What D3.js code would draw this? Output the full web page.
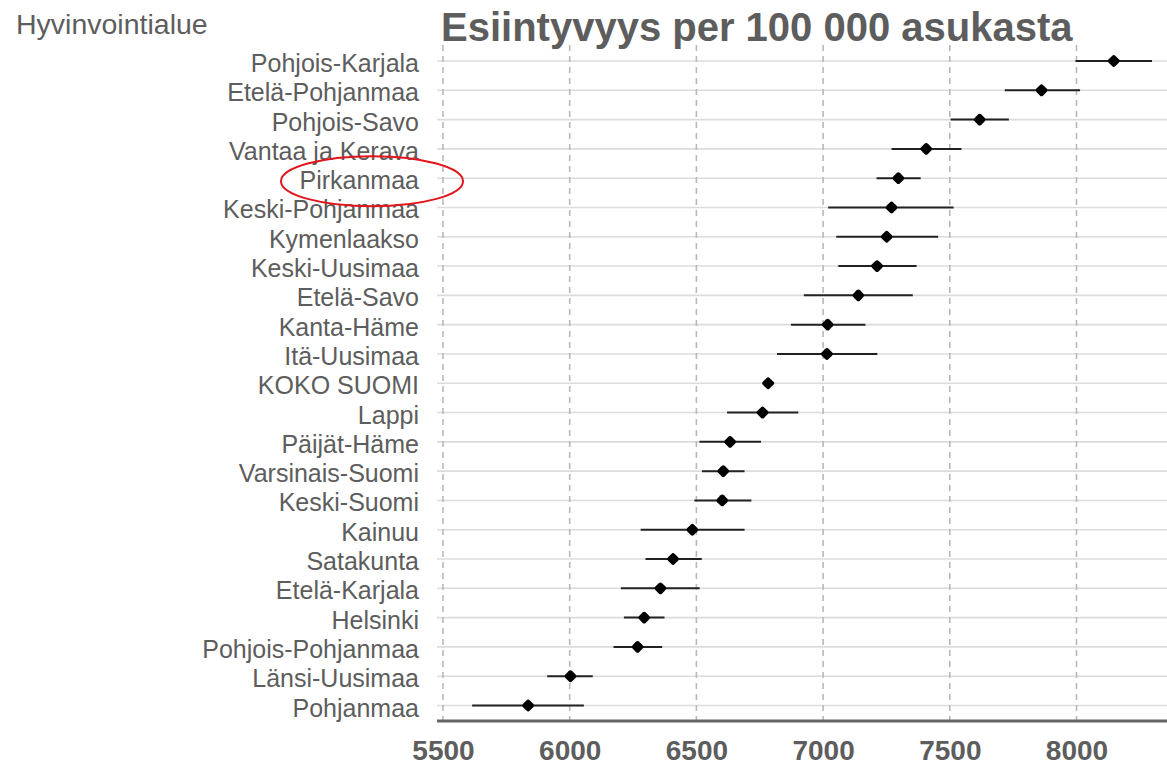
<!DOCTYPE html>
<html>
<head>
<meta charset="utf-8">
<script src="https://cdn.jsdelivr.net/npm/d3@7"></script>
<style>
  body { margin: 0; background: #fff; }
  text { font-family: 'Liberation Sans', Arial, sans-serif; }
</style>
</head>
<body>
<div id="chart"></div>
<script>
// hyvinvointialueet, järjestyksessä ylhäältä alas
let regions = [ 'Pohjois-Karjala', 'Etelä-Pohjanmaa', 'Pohjois-Savo', 'Vantaa ja Kerava', 'Pirkanmaa',
  'Keski-Pohjanmaa', 'Kymenlaakso', 'Keski-Uusimaa', 'Etelä-Savo', 'Kanta-Häme', 'Itä-Uusimaa',
  'KOKO SUOMI', 'Lappi', 'Päijät-Häme', 'Varsinais-Suomi', 'Keski-Suomi', 'Kainuu', 'Satakunta',
  'Etelä-Karjala', 'Helsinki', 'Pohjois-Pohjanmaa', 'Länsi-Uusimaa', 'Pohjanmaa' ]
let estimates = [ 8147, 7862, 7618, 7407, 7297, 7270, 7251, 7213, 7139, 7018, 7015,
  6783, 6761, 6633, 6606, 6602, 6484, 6408, 6358, 6294, 6268, 6003, 5836 ]
let lower = [ 7996, 7717, 7503, 7270, 7211, 7020, 7052, 7060, 6924, 6873, 6818,
  6764, 6621, 6512, 6522, 6492, 6280, 6299, 6202, 6214, 6173, 5911, 5615 ]
let upper = [ 8298, 8014, 7733, 7546, 7385, 7515, 7454, 7369, 7354, 7167, 7214,
  6807, 6902, 6755, 6690, 6717, 6690, 6521, 6513, 6374, 6365, 6091, 6056 ]
let xTicks = [ 5500, 6000, 6500, 7000, 7500, 8000 ]
let highlighted = 'Pirkanmaa'

let textColor = '#5d5d5d'
let width = 1167
let height = 766

let rows = regions.map((d, i) => ({ name: d, est: estimates[ i ], lo: lower[ i ], hi: upper[ i ] }))

let svg = d3.select('#chart').append('svg')
  .attr('width', width)
  .attr('height', height)

let x = d3.scaleLinear().domain([ 5500, 8000 ]).range([ 443, 1076.5 ])
let y = d3.scalePoint().domain(regions).range([ 61, 705.5 ])

let plotLeft = 437
let plotRight = width
let axisY = 721

// vaakasuorat apuviivat
svg.append('g').selectAll('line')
  .data(regions)
  .enter()
  .append('line')
  .attr('x1', plotLeft)
  .attr('x2', plotRight)
  .attr('y1', d => y(d))
  .attr('y2', d => y(d))
  .attr('stroke', '#dcdcdc')
  .attr('stroke-width', 1.6)

// katkoviivat
svg.append('g').selectAll('line')
  .data(xTicks)
  .enter()
  .append('line')
  .attr('x1', d => x(d))
  .attr('x2', d => x(d))
  .attr('y1', 45)
  .attr('y2', axisY)
  .attr('stroke', '#b8b8b8')
  .attr('stroke-width', 1.6)
  .attr('stroke-dasharray', '6,5')

// x-akseli
let xAxis = svg.append('g')
  .attr('transform', 'translate(0,' + axisY + ')')
  .call(d3.axisBottom(x).tickValues(xTicks).tickSize(0).tickPadding(19).tickFormat(d3.format('d')))
xAxis.select('.domain').remove()
xAxis.selectAll('text')
  .attr('fill', textColor)
  .style('font-size', '28px')
  .style('font-weight', 'bold')

svg.append('line')
  .attr('x1', plotLeft)
  .attr('x2', plotRight)
  .attr('y1', axisY)
  .attr('y2', axisY)
  .attr('stroke', '#666')
  .attr('stroke-width', 3)

// y-akseli
let yAxis = svg.append('g')
  .attr('transform', 'translate(' + plotLeft + ',0)')
  .call(d3.axisLeft(y).tickSize(0).tickPadding(18))
yAxis.select('.domain').remove()
yAxis.selectAll('text')
  .attr('fill', textColor)
  .attr('dy', '0.42em')
  .style('font-size', '25px')

// luottamusvälit
let marks = svg.append('g').selectAll('g')
  .data(rows)
  .enter()
  .append('g')
  .attr('transform', d => 'translate(0,' + y(d.name) + ')')

marks.append('line')
  .attr('x1', d => x(d.lo))
  .attr('x2', d => x(d.hi))
  .attr('stroke', '#222')
  .attr('stroke-width', 2)

marks.append('rect')
  .attr('x', -4.8)
  .attr('y', -4.8)
  .attr('width', 9.6)
  .attr('height', 9.6)
  .attr('rx', 2.4)
  .attr('fill', '#000')
  .attr('transform', d => 'translate(' + x(d.est) + ',0) rotate(45)')

// otsikot
svg.append('text')
  .attr('x', 441)
  .attr('y', 41)
  .attr('fill', textColor)
  .style('font-size', '40px')
  .style('font-weight', 'bold')
  .text('Esiintyvyys per 100 000 asukasta')

svg.append('text')
  .attr('x', 16)
  .attr('y', 34)
  .attr('fill', textColor)
  .style('font-size', '28.5px')
  .text('Hyvinvointialue')

// korostus
svg.append('ellipse')
  .attr('cx', 372)
  .attr('cy', y(highlighted) + 3)
  .attr('rx', 91)
  .attr('ry', 25)
  .attr('fill', 'none')
  .attr('stroke', '#e3141b')
  .attr('stroke-width', 2)
</script>
</body>
</html>
